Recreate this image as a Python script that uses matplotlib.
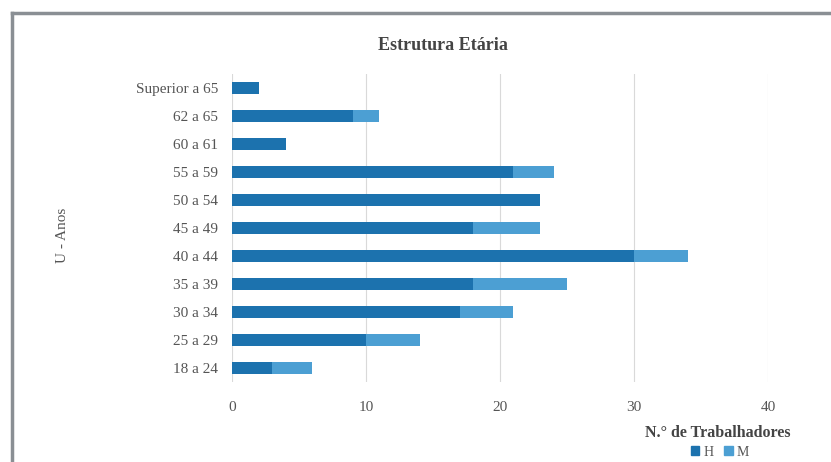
import matplotlib
matplotlib.use("Agg")
import matplotlib.pyplot as plt
from matplotlib.lines import Line2D
from matplotlib.patches import Patch

categories = ["18 a 24", "25 a 29", "30 a 34", "35 a 39", "40 a 44", "45 a 49",
              "50 a 54", "55 a 59", "60 a 61", "62 a 65", "Superior a 65"]
homens = [3, 10, 17, 18, 30, 18, 23, 21, 4, 9, 2]
mulheres = [3, 4, 4, 7, 4, 5, 0, 3, 0, 2, 0]
xticks = [0, 10, 20, 30, 40]

c_h = "#1c72ae"
c_m = "#4c9fd3"
txt = "#555555"

plt.rcParams["font.family"] = ["Liberation Serif", "DejaVu Serif"]

W, H = 831, 462
fig = plt.figure(figsize=(W / 100, H / 100), dpi=100)
fig.patch.set_facecolor("white")

# frame lines (outer box, right/bottom cut)
fig.add_artist(Line2D([12 / W, 12 / W], [0, 1 - 13 / H], color="#8a8f94", lw=2.5,
                      transform=fig.transFigure))
fig.add_artist(Line2D([12 / W, 1], [1 - 13 / H, 1 - 13 / H], color="#8a8f94", lw=2.5,
                      transform=fig.transFigure))

left, right = 232 / W, 768 / W
bottom, top = 1 - 382 / H, 1 - 74 / H
ax = fig.add_axes([left, bottom, right - left, top - bottom])

y = list(range(len(categories)))
ax.barh(y, homens, height=0.45, color=c_h, label="H", zorder=3)
ax.barh(y, mulheres, left=homens, height=0.45, color=c_m, label="M", zorder=3)

ax.set_xlim(0, 40)
ax.set_ylim(-0.5, len(categories) - 0.5)
ax.set_xticks(xticks)
ax.set_xticklabels([str(t) for t in xticks])
ax.set_yticks(y)
ax.set_yticklabels(categories)
ax.tick_params(axis="both", length=0, labelsize=11, colors=txt)
ax.tick_params(axis="x", pad=14)
ax.tick_params(axis="y", pad=10)
ax.grid(axis="x", color="#d9d9d9", lw=0.8, zorder=0)
for s in ax.spines.values():
    s.set_visible(False)

fig.text(443 / W, 1 - 45 / H, "Estrutura Etária", ha="center", va="center",
         fontsize=13, fontweight="bold", color="#444444")
fig.text(63 / W, 1 - 235 / H, "U - Anos", rotation=90, ha="center", va="center",
         fontsize=11, color=txt)
fig.text(718 / W, 1 - 433 / H, "N.° de Trabalhadores", ha="center", va="center",
         fontsize=11.5, fontweight="bold", color="#444444")

handles = [Patch(color=c_h, label="H"), Patch(color=c_m, label="M")]
fig.legend(handles=handles, loc="center", bbox_to_anchor=(720 / W, 1 - 452 / H), ncol=2,
           frameon=False, fontsize=10, handlelength=0.6, handleheight=0.6,
           handletextpad=0.3, columnspacing=0.8, labelcolor=txt)

fig.savefig("out.png", dpi=100, facecolor="white")
